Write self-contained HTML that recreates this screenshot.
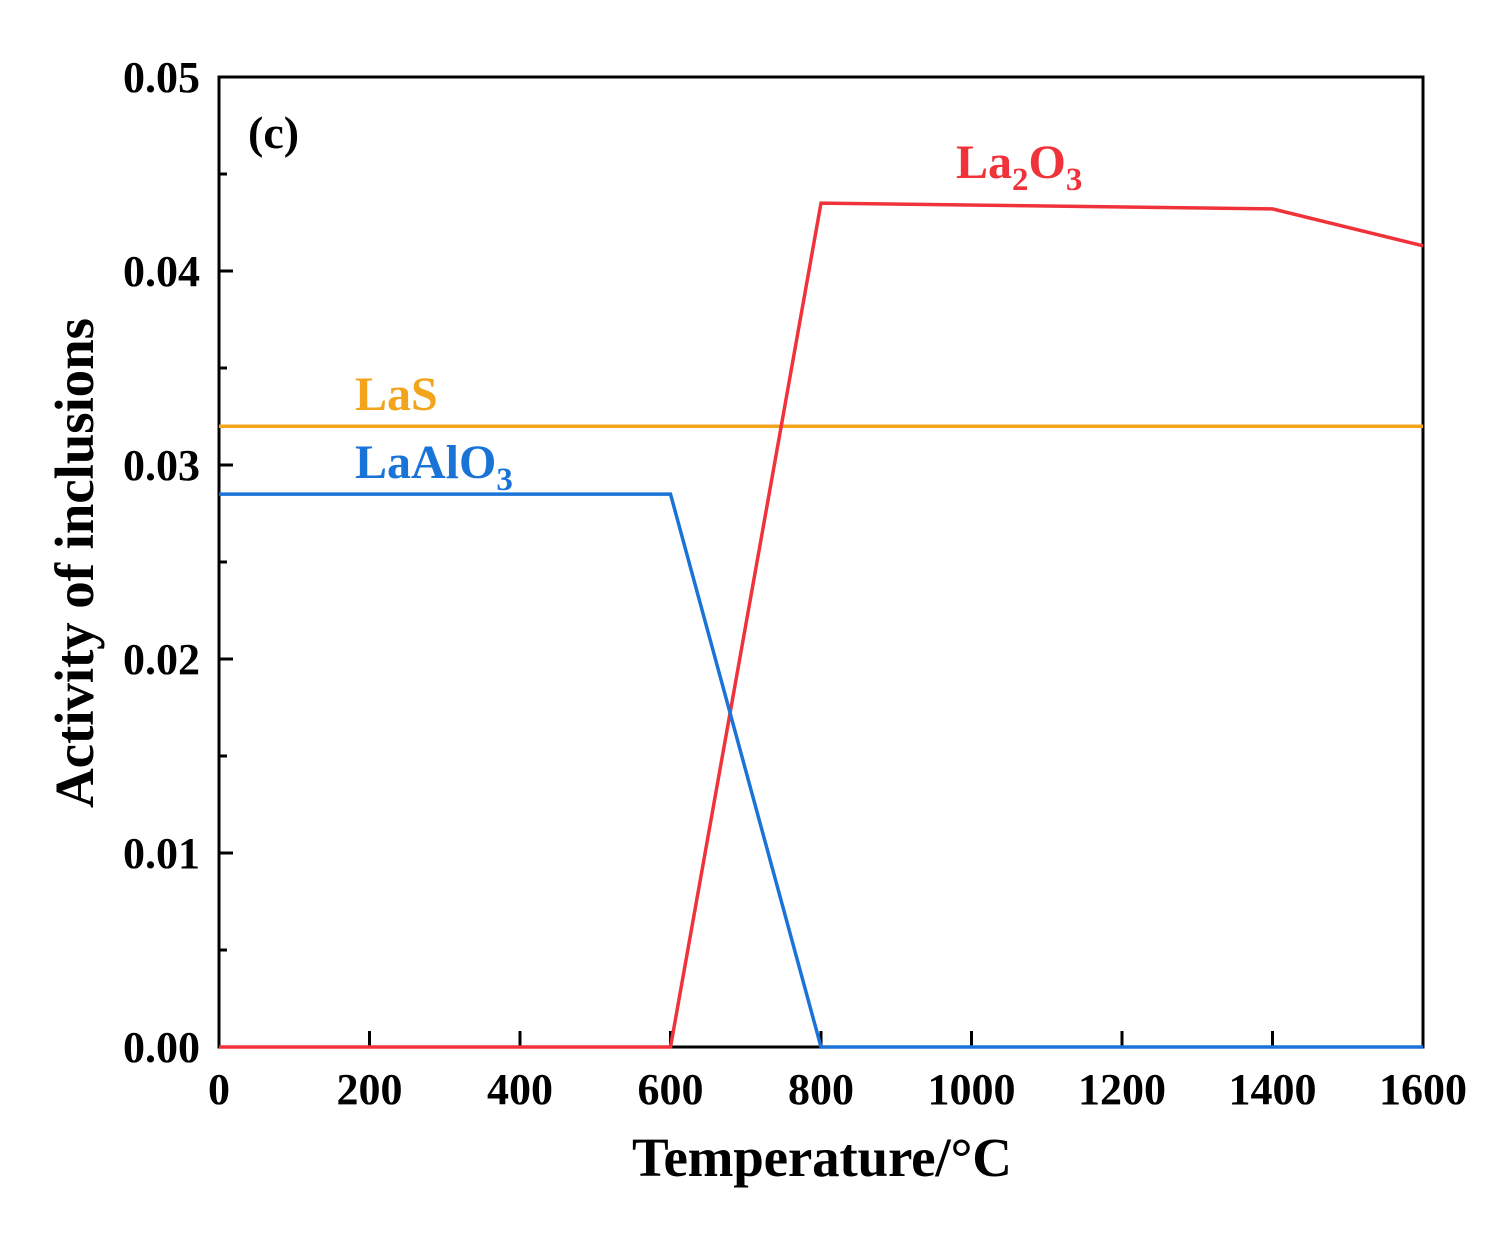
<!DOCTYPE html>
<html><head><meta charset="utf-8"><style>
body{margin:0;background:#fff}
svg text{font-family:"Liberation Serif",serif;font-weight:bold}
</style></head><body>
<svg width="1495" height="1233" viewBox="0 0 1495 1233" xmlns="http://www.w3.org/2000/svg">
<g id="axes"></g>
<g id="series"></g>
<text x="248" y="148" font-size="46">(c)</text>
<text x="956" y="178" font-size="48" fill="#f0333a">La<tspan font-size="33" dy="12">2</tspan><tspan dy="-12">O</tspan><tspan font-size="33" dy="12">3</tspan></text>
<text x="355" y="410" font-size="48" fill="#f2a51c">LaS</text>
<text x="355" y="478" font-size="48" fill="#1a73d6">LaAlO<tspan font-size="33" dy="12">3</tspan></text>
<text x="822" y="1176" font-size="55" text-anchor="middle" textLength="380">Temperature/°C</text>
<text transform="translate(93,563) rotate(-90)" font-size="55" text-anchor="middle" textLength="490">Activity of inclusions</text>
</svg>
<script>
const xTicks=[0,200,400,600,800,1000,1200,1400,1600];
const yTicks=[0,0.01,0.02,0.03,0.04,0.05];
const yTickLabels=["0.00","0.01","0.02","0.03","0.04","0.05"];
const temps=[0,600,800,1400,1600];
const lasValues=[0.032,0.032,0.032,0.032,0.032];
const laalo3Values=[0.0285,0.0285,0,0,0];
const la2o3Values=[0,0,0.0435,0.0432,0.0413];
const X0=219,X1=1423,Y0=1047,Y1=77;
const sx=v=>X0+(v-0)/1600*(X1-X0);
const sy=v=>Y0-(v/0.05)*(Y0-Y1);
const NS="http://www.w3.org/2000/svg";
function mk(tag,attrs,parent){const e=document.createElementNS(NS,tag);for(const k in attrs)e.setAttribute(k,attrs[k]);parent.appendChild(e);return e;}
const ax=document.getElementById('axes'),se=document.getElementById('series');
const fr=mk('rect',{x:X0,y:Y1,width:X1-X0,height:Y0-Y1,fill:'none',stroke:'#000','stroke-width':3},ax);


xTicks.forEach(t=>{
 const l=mk('line',{x1:sx(t),x2:sx(t),y1:Y0,y2:Y0-16,stroke:'#000','stroke-width':3},ax);
 
 
 const tx=mk('text',{x:sx(t),y:1104,'font-size':44,'text-anchor':'middle'},ax);
 tx.textContent=t;
 
 
});
yTicks.forEach((t,i)=>{
 const l=mk('line',{x1:X0,x2:X0+14,y1:sy(t),y2:sy(t),stroke:'#000','stroke-width':3},ax);
 
 
 if(i<yTicks.length-1){
  const m=mk('line',{x1:X0,x2:X0+8,y1:sy(t+0.005),y2:sy(t+0.005),stroke:'#000','stroke-width':3},ax);
  
  
 }
 const tx=mk('text',{x:200,y:sy(t)+15,'font-size':44,'text-anchor':'end'},ax);
 tx.textContent=yTickLabels[i];
 
 
});
function line(vals,color,name){
 const p=mk('polyline',{points:temps.map((t,i)=>sx(t)+','+sy(vals[i])).join(' '),fill:'none',stroke:color,'stroke-width':3.5},se);
 
 
}
line(lasValues,'#f2a51c','las-line');
line(la2o3Values,'#f0333a','la2o3-line');
line(laalo3Values,'#1a73d6','laalo3-line');
</script>
</body></html>
